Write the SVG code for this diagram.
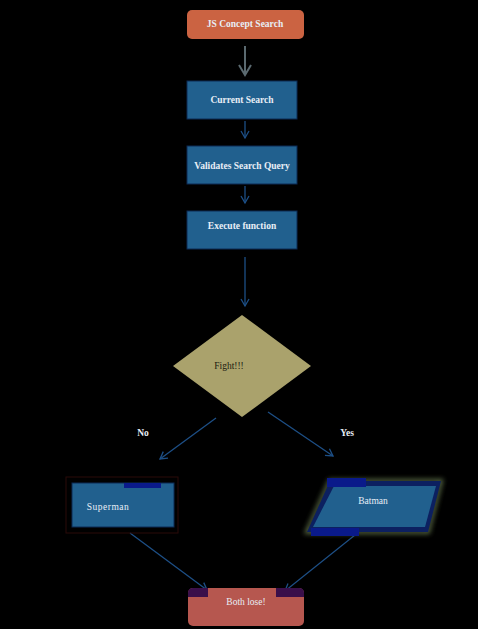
<svg xmlns="http://www.w3.org/2000/svg" width="478" height="629" viewBox="0 0 478 629">
<defs>
<style>
.t{font-family:"Liberation Serif","DejaVu Serif",serif;font-size:9.5px;fill:#e8eef6;text-anchor:middle}
.b{font-weight:bold}
.box{fill:#21608e;stroke:#0d2a55;stroke-width:1}
.ln{stroke:#1d4f86;stroke-width:1.3;fill:none}
</style>
<marker id="ah" markerWidth="10" markerHeight="10" refX="8" refY="5" orient="auto" markerUnits="userSpaceOnUse">
<path d="M1,1 L8,5 L1,9" fill="none" stroke="#1d4f86" stroke-width="1.3"/>
</marker>
<marker id="ag" markerWidth="14" markerHeight="14" refX="11" refY="7" orient="auto" markerUnits="userSpaceOnUse">
<path d="M1,1 L11,7 L1,13" fill="none" stroke="#5b6a70" stroke-width="2"/>
</marker>
<filter id="glow" x="-20%" y="-30%" width="140%" height="160%">
<feGaussianBlur stdDeviation="2.5"/>
</filter>
</defs>
<rect width="478" height="629" fill="#000"/>
<g id="connectors">
<line x1="245" y1="46" x2="245" y2="75" stroke="#5b6a70" stroke-width="2" marker-end="url(#ag)"/>
<line class="ln" x1="245" y1="121" x2="245" y2="138" marker-end="url(#ah)"/>
<line class="ln" x1="245" y1="186" x2="245" y2="203" marker-end="url(#ah)"/>
<line class="ln" x1="245" y1="257" x2="245" y2="306" marker-end="url(#ah)"/>
<line class="ln" x1="216" y1="418" x2="160" y2="459" marker-end="url(#ah)"/>
<line class="ln" x1="268" y1="412" x2="333" y2="456" marker-end="url(#ah)"/>
<line class="ln" x1="130" y1="533" x2="207" y2="590" marker-end="url(#ah)"/>
<line class="ln" x1="355" y1="535" x2="285" y2="591" marker-end="url(#ah)"/>
<text class="t b" x="143" y="436">No</text>
<text class="t b" x="347" y="436">Yes</text>
</g>
<g id="start">
<rect x="187" y="10" width="117" height="29" rx="5" fill="#cb6342"/>
<text class="t b" x="245" y="27">JS Concept Search</text>
</g>
<g id="current">
<rect class="box" x="187" y="81" width="110" height="38"/>
<text class="t b" x="242" y="103">Current Search</text>
</g>
<g id="validate">
<rect class="box" x="187" y="146" width="110" height="38"/>
<text class="t b" x="242" y="169">Validates Search Query</text>
</g>
<g id="execute">
<rect class="box" x="187" y="211" width="110" height="38"/>
<text class="t b" x="242" y="229">Execute function</text>
</g>
<g id="fight">
<polygon points="242,315 311,366 242,417 173,366" fill="#aaa26c"/>
<text class="t" x="229" y="369" style="fill:#1a1a10">Fight!!!</text>
</g>
<g id="superman">
<rect x="66" y="477" width="112" height="56" fill="none" stroke="#2a0a08" stroke-width="1"/>
<rect class="box" x="72" y="483" width="102" height="44"/>
<rect x="124" y="483" width="37" height="5" fill="#0a1a8a"/>
<text class="t" x="108" y="510" style="letter-spacing:0.5px">Superman</text>
</g>
<g id="batman">
<polygon points="330,481 441,481 428,532 307,532" fill="none" stroke="#5a6a44" stroke-width="4" filter="url(#glow)"/>
<polygon points="330,481 441,481 428,532 307,532" fill="#0c2060"/>
<polygon points="334,486 436,486 425,527 313,527" fill="#21608e"/>
<rect x="327" y="478" width="39" height="9" fill="#0a1a8a"/>
<rect x="311" y="528" width="48" height="8" fill="#0a1a8a"/>
<text class="t" x="373" y="504">Batman</text>
</g>
<g id="end">
<rect x="188" y="588" width="116" height="38" rx="5" fill="#b6574f"/>
<path d="M188,597 V593 Q188,588 193,588 H208 V597 Z" fill="#3a0f4a"/>
<path d="M276,588 H299 Q304,588 304,593 V597 H276 Z" fill="#3a0f4a"/>
<text class="t" x="246" y="605">Both lose!</text>
</g>
</svg>
